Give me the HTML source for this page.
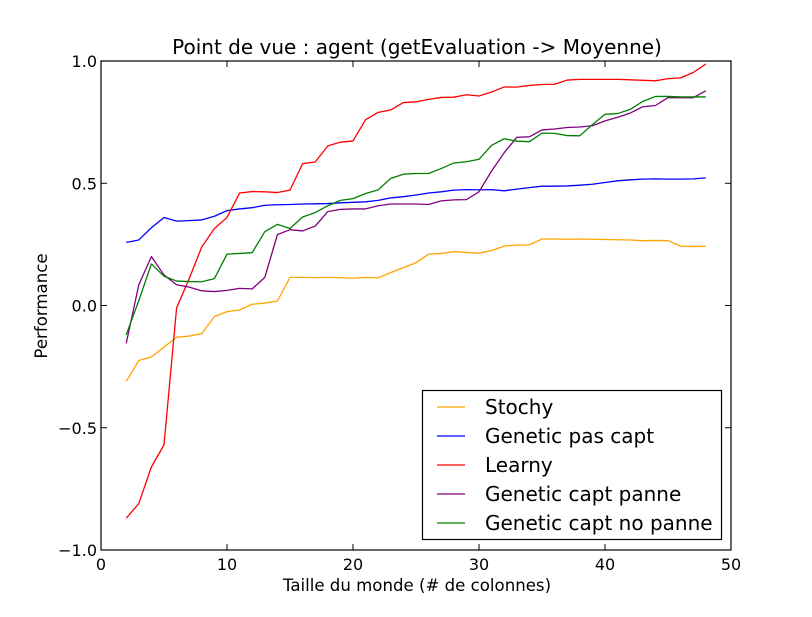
<!DOCTYPE html>
<html><head><meta charset="utf-8">
<style>
html,body{margin:0;padding:0;background:#fff;}
svg text{font-family:"DejaVu Sans","Liberation Sans",sans-serif;fill:#000;}
</style></head>
<body>
<svg id="chart" width="812" height="612" viewBox="0 0 812 612" xmlns="http://www.w3.org/2000/svg">
<rect x="0" y="0" width="812" height="612" fill="#fff"/>
<text x="417" y="54" text-anchor="middle" font-size="20">Point de vue : agent (getEvaluation -&gt; Moyenne)</text>
<text x="417" y="591" text-anchor="middle" font-size="16.6">Taille du monde (# de colonnes)</text>
<text x="47" y="306" text-anchor="middle" font-size="16.6" transform="rotate(-90 47 306)">Performance</text>
<g id="plot"></g>
</svg>
<script>
const xTicks = [0, 10, 20, 30, 40, 50];
const yTicks = [-1.0, -0.5, 0.0, 0.5, 1.0];
const yTickLabels = ["\u22121.0", "\u22120.5", "0.0", "0.5", "1.0"];
const xs = [2,3,4,5,6,7,8,9,10,11,12,13,14,15,16,17,18,19,20,21,22,23,24,25,26,27,28,29,30,31,32,33,34,35,36,37,38,39,40,41,42,43,44,45,46,47,48];
const seriesNames = ["Stochy", "Genetic pas capt", "Learny", "Genetic capt panne", "Genetic capt no panne"];
const seriesColors = ["#ffa500", "#0000ff", "#ff0000", "#800080", "#008000"];
const stochy = [-0.31,-0.225,-0.21,-0.17,-0.13,-0.125,-0.115,-0.045,-0.025,-0.018,0.005,0.01,0.018,0.115,0.115,0.114,0.115,0.114,0.112,0.115,0.113,0.135,0.155,0.175,0.21,0.213,0.22,0.217,0.214,0.225,0.243,0.247,0.248,0.272,0.272,0.271,0.272,0.271,0.27,0.269,0.268,0.265,0.266,0.265,0.243,0.241,0.242];
const geneticPasCapt = [0.258,0.268,0.318,0.36,0.345,0.347,0.35,0.365,0.388,0.395,0.4,0.41,0.412,0.413,0.415,0.416,0.417,0.42,0.422,0.424,0.43,0.44,0.445,0.452,0.46,0.465,0.472,0.474,0.473,0.474,0.469,0.476,0.482,0.488,0.488,0.489,0.492,0.496,0.503,0.51,0.514,0.517,0.518,0.517,0.517,0.518,0.522];
const learny = [-0.87,-0.81,-0.66,-0.57,-0.01,0.11,0.24,0.315,0.36,0.46,0.466,0.465,0.462,0.472,0.58,0.587,0.653,0.668,0.673,0.76,0.79,0.8,0.83,0.833,0.843,0.851,0.852,0.862,0.857,0.873,0.894,0.893,0.9,0.904,0.905,0.922,0.925,0.925,0.925,0.925,0.923,0.921,0.919,0.928,0.931,0.953,0.988];
const geneticCaptPanne = [-0.155,0.085,0.2,0.125,0.085,0.075,0.06,0.057,0.062,0.07,0.068,0.115,0.29,0.31,0.305,0.325,0.384,0.393,0.395,0.395,0.408,0.415,0.415,0.415,0.413,0.428,0.432,0.433,0.465,0.55,0.625,0.688,0.69,0.718,0.722,0.728,0.73,0.735,0.755,0.77,0.787,0.813,0.818,0.85,0.85,0.85,0.878];
const geneticCaptNoPanne = [-0.12,0.02,0.17,0.12,0.1,0.098,0.097,0.11,0.21,0.213,0.216,0.302,0.332,0.315,0.362,0.38,0.408,0.43,0.437,0.458,0.473,0.52,0.537,0.54,0.54,0.56,0.583,0.588,0.598,0.655,0.682,0.672,0.67,0.705,0.704,0.695,0.694,0.74,0.782,0.785,0.802,0.835,0.855,0.855,0.853,0.853,0.853];
const allSeries = [stochy, geneticPasCapt, learny, geneticCaptPanne, geneticCaptNoPanne];

const L = 101, R = 731, T = 61, B = 550;
const xMin = 0, xMax = 50, yMin = -1, yMax = 1;
function sx(v){ return L + (v - xMin) / (xMax - xMin) * (R - L); }
function sy(v){ return B - (v - yMin) / (yMax - yMin) * (B - T); }
const NS = "http://www.w3.org/2000/svg";
const g = document.getElementById("plot");
function mk(tag, attrs){ const e = document.createElementNS(NS, tag); for (const k in attrs) e.setAttribute(k, attrs[k]); g.appendChild(e); return e; }

allSeries.forEach((vals, i) => {
  const pts = vals.map((v, j) => sx(xs[j]).toFixed(2) + "," + sy(v).toFixed(2)).join(" ");
  const pl = mk("polyline", {points: pts, fill: "none", stroke: seriesColors[i], "stroke-width": 1.3, "stroke-linejoin": "round"});
  
  
});

const frame = mk("rect", {x: L, y: T, width: R - L, height: B - T, fill: "none", stroke: "#000", "stroke-width": 1.2});



xTicks.forEach(t => {
  const x = sx(t);
  const t1 = mk("line", {x1: x, y1: B, x2: x, y2: B - 6, stroke: "#000", "stroke-width": 1});
  
  
  const t2 = mk("line", {x1: x, y1: T, x2: x, y2: T + 6, stroke: "#000", "stroke-width": 1});
  
  
  const lb = mk("text", {x: x, y: B + 20, "text-anchor": "middle", "font-size": 16});
  lb.textContent = String(t);
  
  
});

yTicks.forEach((t, i) => {
  const y = sy(t);
  const t1 = mk("line", {x1: L, y1: y, x2: L + 6, y2: y, stroke: "#000", "stroke-width": 1});
  
  
  const t2 = mk("line", {x1: R, y1: y, x2: R - 6, y2: y, stroke: "#000", "stroke-width": 1});
  
  
  const lb = mk("text", {x: L - 4, y: y + 6, "text-anchor": "end", "font-size": 16});
  lb.textContent = yTickLabels[i];
  
  
});

const lg = mk("rect", {x: 422.5, y: 390.5, width: 299, height: 149, fill: "#fff", stroke: "#000", "stroke-width": 1.2});


seriesNames.forEach((n, i) => {
  const y = 407 + i * 29;
  const ln = mk("line", {x1: 437, y1: y, x2: 465, y2: y, stroke: seriesColors[i], "stroke-width": 1.3});
  
  
  const tx = mk("text", {x: 485, y: y + 7, "font-size": 20});
  tx.textContent = n;
  
  
});
</script>
</body></html>
